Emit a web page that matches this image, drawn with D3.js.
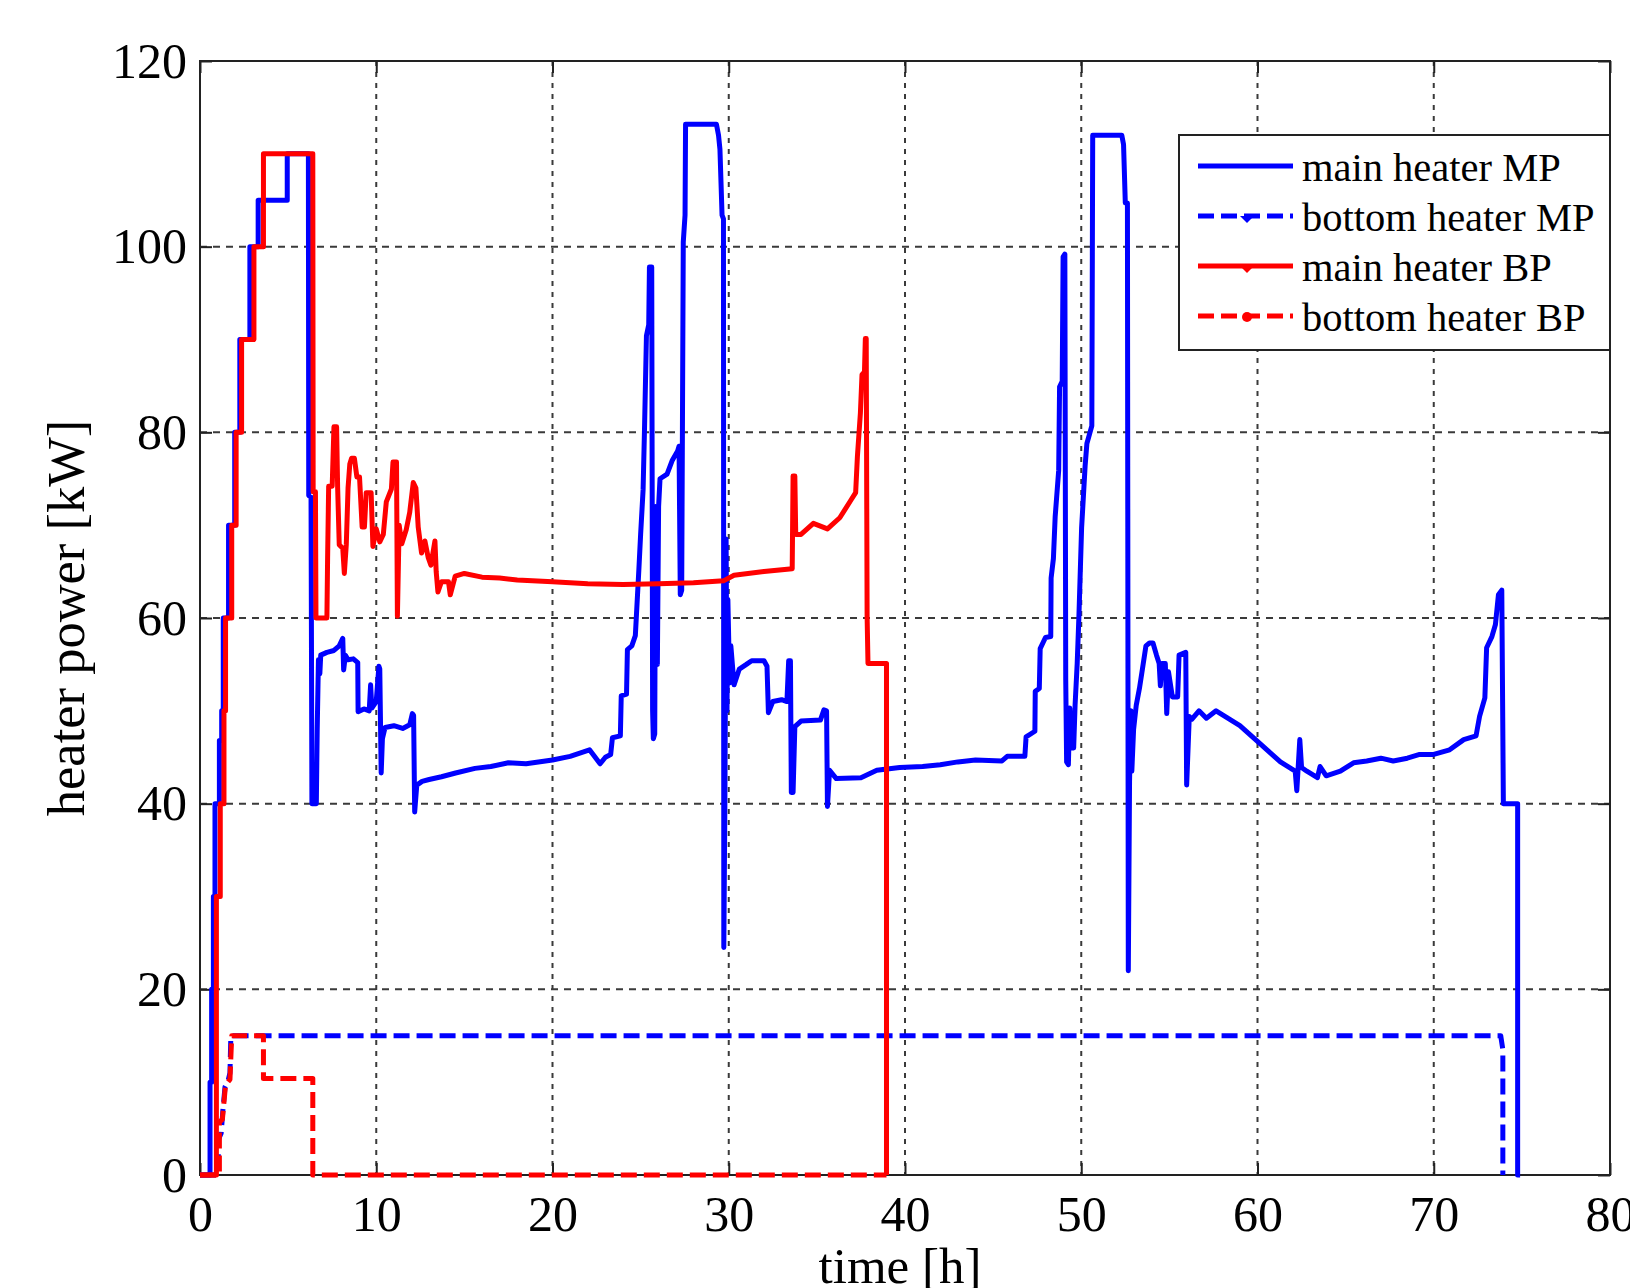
<!DOCTYPE html>
<html><head><meta charset="utf-8">
<script src="https://cdn.jsdelivr.net/npm/d3@7"></script>
<style>body{margin:0;background:#fff}svg{display:block}</style>
</head><body>
<svg id="chart" width="1630" height="1288"></svg>
<script>
const xTicks = [0,10,20,30,40,50,60,70,80];
const yTicks = [0,20,40,60,80,100,120];
const seriesNames = ["main heater MP","bottom heater MP","main heater BP","bottom heater BP"];

const mainMP = [[0,0],[0.57,0],[0.57,10],[0.66,10],[0.66,20],[0.76,20],[0.76,30],[0.85,30],[0.85,40],[1.1,40],[1.1,46.8],[1.23,46.8],[1.23,50],[1.32,50],[1.32,60],[1.62,60],[1.62,70],[1.97,70],[1.97,80],[2.26,80],[2.26,90],[2.83,90],[2.83,100],[3.3,100],[3.3,105],[4.95,105],[4.95,110],[6.15,110],[6.17,73.2],[6.3,73],[6.35,40],[6.6,40],[6.65,48],[6.72,55.5],[6.8,54],[6.85,56],[7.2,56.3],[7.6,56.5],[7.9,57],[8.1,57.8],[8.15,54.4],[8.25,56],[8.4,55.5],[8.7,55.6],[8.95,55.2],[8.97,49.9],[9.3,50.2],[9.6,50],[9.68,52.8],[9.75,50.3],[10.0,51],[10.15,54.8],[10.2,54.5],[10.28,43.3],[10.35,47],[10.5,48.2],[11.0,48.4],[11.5,48.1],[11.9,48.5],[12.05,49.7],[12.12,49.5],[12.18,39.1],[12.3,42],[12.6,42.4],[13.0,42.6],[13.7,42.9],[14.5,43.3],[15.6,43.8],[16.5,44],[17.5,44.4],[18.5,44.3],[20,44.7],[21,45.1],[22.1,45.8],[22.7,44.3],[23.0,45],[23.3,45.3],[23.4,47.1],[23.85,47.3],[23.9,51.6],[24.2,51.8],[24.25,56.6],[24.5,57],[24.7,58.1],[24.9,65.2],[25.0,69],[25.14,73.8],[25.22,80.3],[25.33,90.4],[25.46,91.6],[25.5,97.8],[25.63,97.8],[25.68,50],[25.72,47],[25.8,47.5],[25.85,72],[25.9,60],[25.95,55],[26.02,72],[26.1,75],[26.5,75.5],[26.8,77],[27.1,78],[27.18,78.5],[27.25,62.5],[27.33,63],[27.42,100.5],[27.52,103.4],[27.55,113.2],[29.3,113.2],[29.42,112],[29.5,110.5],[29.62,103.4],[29.7,103],[29.72,24.5],[29.78,40],[29.85,68.5],[29.9,50],[29.95,62],[30.05,53],[30.12,57],[30.3,52.8],[30.6,54.5],[31.0,55],[31.3,55.4],[32.0,55.4],[32.17,54.8],[32.25,49.8],[32.5,51],[33.0,51.2],[33.3,51],[33.4,55.4],[33.5,55.4],[33.55,41.2],[33.65,41.2],[33.75,48.3],[34.1,48.9],[35.2,49],[35.4,50.1],[35.55,50],[35.6,39.7],[35.72,43.6],[36.1,42.7],[37.5,42.8],[38.4,43.6],[39.7,43.9],[41,44],[42,44.2],[43,44.5],[44,44.7],[45.5,44.6],[45.8,45.1],[46.8,45.1],[46.87,47.2],[47.37,47.8],[47.39,52.1],[47.62,52.4],[47.67,56.7],[47.97,57.9],[48.27,58],[48.29,64.3],[48.42,66.4],[48.52,70.9],[48.72,75.9],[48.77,84.9],[48.92,85.5],[48.97,98.9],[49.07,99.2],[49.12,53.3],[49.17,44.5],[49.27,44.2],[49.35,50.3],[49.42,46],[49.57,46],[49.65,50.6],[49.77,55.1],[49.87,60.3],[50.02,69.7],[50.22,76.4],[50.32,78.8],[50.6,80.7],[50.65,112],[52.3,112],[52.4,111],[52.5,104.7],[52.62,104.7],[52.67,22],[52.74,42.4],[52.82,50],[52.87,43.5],[52.97,48],[53.12,50.6],[53.3,52.4],[53.47,54.5],[53.67,57],[53.87,57.3],[54.07,57.3],[54.27,56],[54.42,55.1],[54.49,52.7],[54.57,55.1],[54.77,55.1],[54.85,49.7],[54.95,54.2],[55.17,51.5],[55.47,51.5],[55.55,56],[55.93,56.3],[55.98,42],[56.13,49.4],[56.28,49.1],[56.68,50],[57.1,49.2],[57.65,50],[59,48.4],[60,46.7],[61.3,44.5],[62.14,43.5],[62.23,41.4],[62.4,46.9],[62.5,43.9],[62.8,43.5],[63.4,42.8],[63.55,44],[63.9,43],[64.7,43.5],[65.45,44.4],[66.2,44.6],[67,44.9],[67.7,44.6],[68.5,44.9],[69.2,45.3],[70,45.3],[70.9,45.8],[71.7,46.9],[72.4,47.3],[72.6,49.4],[72.9,51.4],[73.0,56.8],[73.3,58],[73.5,59.3],[73.67,62.5],[73.86,63],[73.95,40],[74.76,40],[74.76,0],[74.9,0]];

const bottomMP = [[0,0],[1.04,0],[1.04,3.8],[1.2,4.5],[1.3,7],[1.42,9.5],[1.6,10.2],[1.7,11],[1.75,15],[73.8,15],[73.92,13.5],[73.92,0]];

const mainBP = [[0,0],[0.93,0],[0.93,30],[1.15,30],[1.15,40],[1.36,40],[1.36,50],[1.45,50],[1.45,60],[1.8,60],[1.8,70],[2.05,70],[2.05,80],[2.36,80],[2.36,90],[3.06,90],[3.06,100],[3.6,100],[3.6,110],[6.4,110],[6.42,73.6],[6.55,73.6],[6.58,60],[7.2,60],[7.24,66.4],[7.3,74.2],[7.5,74.2],[7.6,80.6],[7.75,80.6],[7.81,74],[7.9,67.9],[8.1,67.5],[8.19,64.8],[8.3,67.9],[8.4,74],[8.5,76.6],[8.6,77.2],[8.76,77.2],[8.9,75.2],[9.05,75.2],[9.2,69.8],[9.33,69.8],[9.43,73.5],[9.71,73.5],[9.81,67.7],[10,69.6],[10.2,68.2],[10.4,69],[10.57,72.5],[10.86,73.9],[10.95,76.8],[11.15,76.8],[11.2,60.2],[11.3,70],[11.45,68],[11.7,69.5],[11.9,71.4],[12.1,74.6],[12.25,74],[12.38,69.8],[12.57,67],[12.76,68.3],[12.95,66.5],[13.1,65.7],[13.33,68.3],[13.4,65],[13.5,62.8],[13.7,63.9],[14.1,63.9],[14.2,62.5],[14.48,64.5],[15,64.8],[16,64.4],[17,64.3],[18,64.1],[20,63.9],[22,63.7],[24,63.6],[26,63.7],[28,63.8],[29.7,64],[30.3,64.6],[32,65],[33.6,65.3],[33.65,75.3],[33.75,75.3],[33.8,69],[34.1,69],[34.8,70.2],[35.6,69.6],[36.3,70.8],[36.9,72.6],[37.2,73.5],[37.3,77.4],[37.47,82.1],[37.56,86.2],[37.7,86.5],[37.75,90.1],[37.8,90.1],[37.85,60.2],[37.9,55.1],[38.95,55.1],[38.95,0]];

const bottomBP = [[0,0],[1.1,0],[1.1,5.7],[1.27,6],[1.45,9.7],[1.7,10.3],[1.8,15],[3.6,15],[3.6,10.4],[6.4,10.4],[6.4,0],[38.95,0]];

const svg = d3.select("#chart");
const W = 1630, H = 1288;
const L = 200, R = 1610, T = 61, B = 1175;
const x = d3.scaleLinear().domain([0,80]).range([L,R]);
const y = d3.scaleLinear().domain([0,120]).range([B,T]);
const font = "'Liberation Serif','Times New Roman',serif";
const gridCol = "#3a3a3a", axCol = "#222";

svg.append("rect").attr("width",W).attr("height",H).attr("fill","#fff");

// grid
const grid = svg.append("g");
grid.selectAll("line.vx").data(xTicks.slice(1,-1)).join("line")
  .attr("x1",d=>x(d)).attr("x2",d=>x(d)).attr("y1",T).attr("y2",B)
  .attr("stroke",gridCol).attr("stroke-width",2).attr("stroke-dasharray","5,6");
grid.selectAll("line.hy").data(yTicks.slice(1,-1)).join("line")
  .attr("x1",L).attr("x2",R).attr("y1",d=>y(d)).attr("y2",d=>y(d))
  .attr("stroke",gridCol).attr("stroke-width",2).attr("stroke-dasharray","7,6");

// axes (ticks inward on all four sides)
const tl = 12;
const axB = d3.axisBottom(x).tickValues(xTicks).tickSize(-tl).tickPadding(20).tickFormat(d3.format("d"));
const axT = d3.axisTop(x).tickValues(xTicks).tickSize(-tl).tickFormat("");
const axL = d3.axisLeft(y).tickValues(yTicks).tickSize(-tl).tickPadding(13).tickFormat(d3.format("d"));
const axR = d3.axisRight(y).tickValues(yTicks).tickSize(-tl).tickFormat("");
function styleAx(g){
  g.select(".domain").attr("stroke",axCol).attr("stroke-width",2);
  g.selectAll(".tick line").attr("stroke",axCol).attr("stroke-width",2);
  g.selectAll(".tick text").attr("fill","#000").style("font-family",font).style("font-size","50px");
}
svg.append("g").attr("transform",`translate(0,${B})`).call(axB).call(styleAx);
svg.append("g").attr("transform",`translate(0,${T})`).call(axT).call(styleAx);
svg.append("g").attr("transform",`translate(${L},0)`).call(axL).call(styleAx);
svg.append("g").attr("transform",`translate(${R},0)`).call(axR).call(styleAx);
svg.selectAll(".domain").attr("d", null);
svg.append("rect").attr("x",L).attr("y",T).attr("width",R-L).attr("height",B-T)
  .attr("fill","none").attr("stroke",axCol).attr("stroke-width",2);

// data lines
const line = d3.line().x(d=>x(d[0])).y(d=>y(d[1]));
const styles = [
  {data:mainMP, color:"#0000ff", dash:null},
  {data:bottomMP, color:"#0000ff", dash:"16,7"},
  {data:mainBP, color:"#ff0000", dash:null},
  {data:bottomBP, color:"#ff0000", dash:"16,7"}
];
const lg = svg.append("g");
styles.forEach(s=>{
  lg.append("path").datum(s.data).attr("d",line)
    .attr("fill","none").attr("stroke",s.color).attr("stroke-width",5)
    .attr("stroke-linejoin","round").attr("stroke-linecap","butt")
    .attr("stroke-dasharray",s.dash);
});

// axis labels
svg.append("text").attr("x",900).attr("y",1283).attr("text-anchor","middle")
  .style("font-family",font).style("font-size","51px").attr("fill","#000").text("time [h]");
svg.append("text").attr("transform","translate(84,618) rotate(-90)").attr("text-anchor","middle")
  .style("font-family",font).style("font-size","52.5px").attr("fill","#000").text("heater power [kW]");

// legend
const leg = svg.append("g");
leg.append("rect").attr("x",1179).attr("y",135).attr("width",R-1179).attr("height",215)
  .attr("fill","#fff").attr("stroke",axCol).attr("stroke-width",2);
const rowsY = [166,216,266,316];
styles.forEach((s,i)=>{
  const yy = rowsY[i];
  leg.append("line").attr("x1",1198).attr("x2",1293).attr("y1",yy).attr("y2",yy)
    .attr("stroke",s.color).attr("stroke-width",5).attr("stroke-dasharray",s.dash);
  if(i===1 || i===2){
    leg.append("path").attr("d",`M${1240},${yy} L${1254},${yy} L${1247},${yy+7} Z`).attr("fill",s.color);
  } else if(i===3){
    leg.append("circle").attr("cx",1247).attr("cy",yy+1).attr("r",5).attr("fill",s.color);
  }
  leg.append("text").attr("x",1302).attr("y",yy+15)
    .style("font-family",font).style("font-size","40.5px").attr("fill","#000").text(seriesNames[i]);
});
</script>
</body></html>
